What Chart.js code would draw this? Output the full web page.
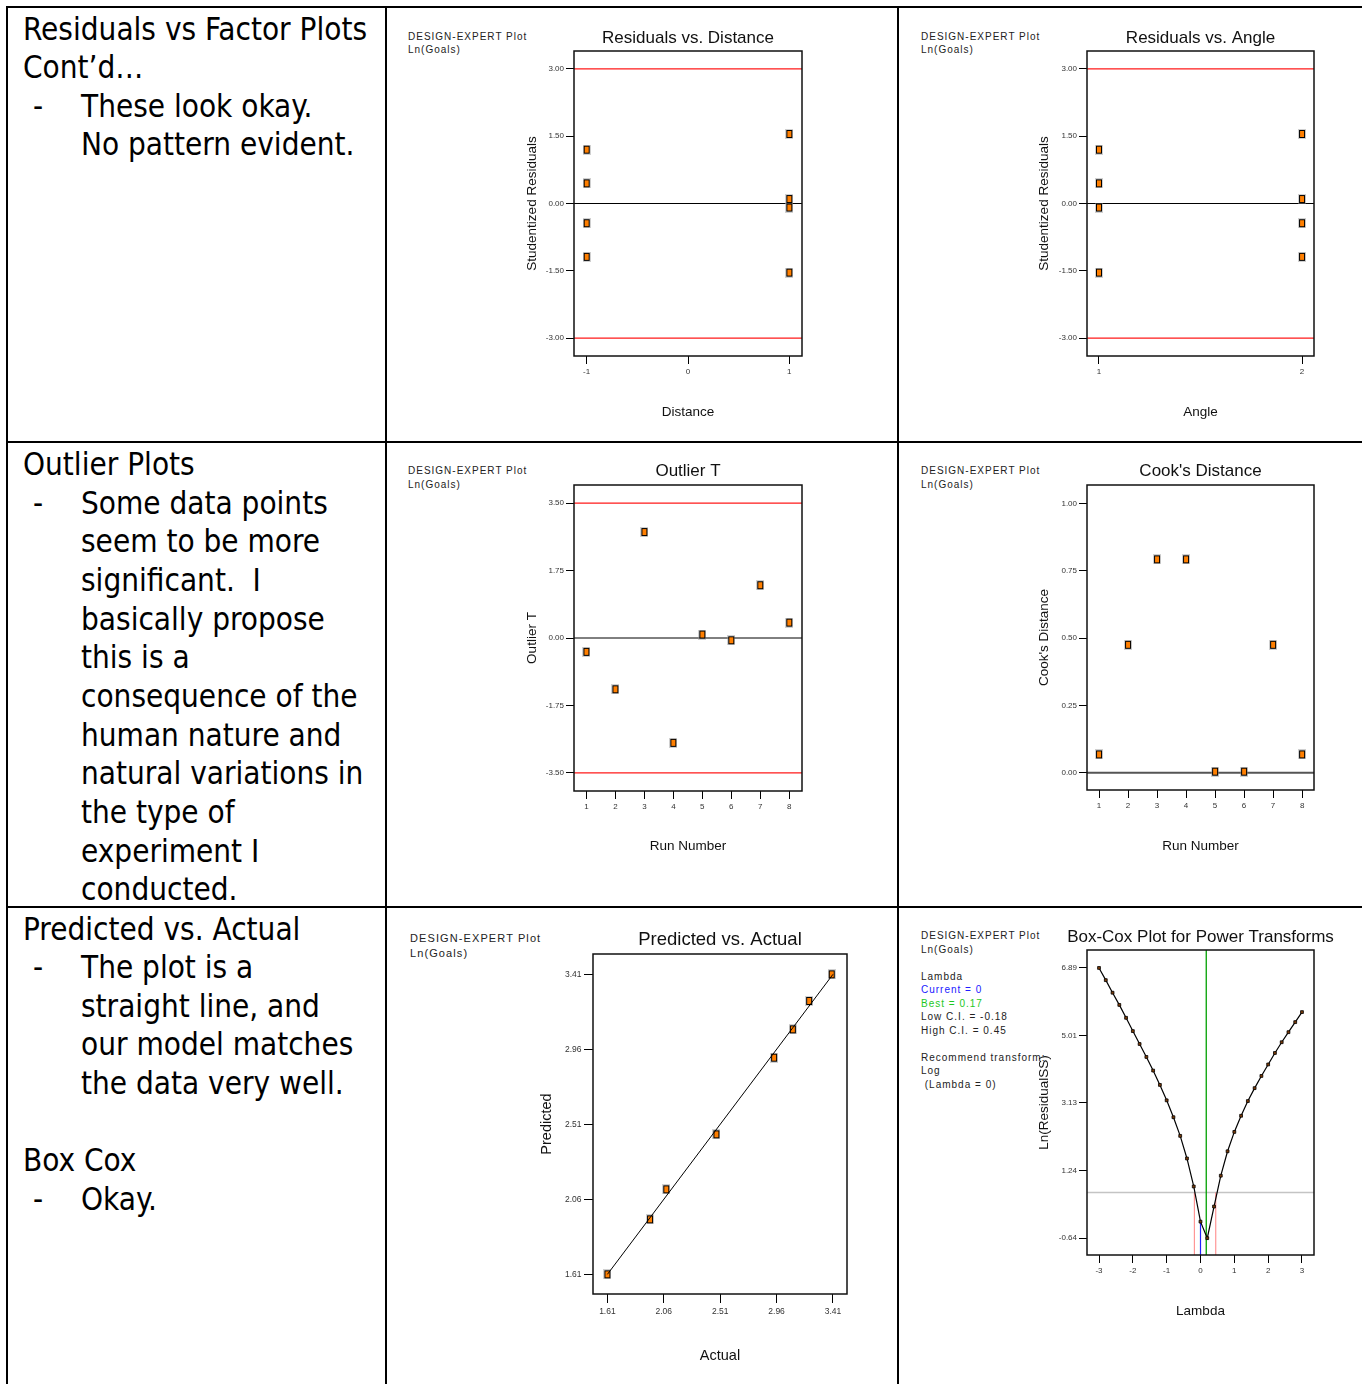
<!DOCTYPE html>
<html>
<head>
<meta charset="utf-8">
<title>Diagnostics</title>
<script src="https://cdn.jsdelivr.net/npm/chart.js@4.4.1/dist/chart.umd.min.js"></script>
<style>
  html, body { margin: 0; padding: 0; background: #fff; width: 1362px; height: 1384px; overflow: hidden; }
  #page { position: relative; width: 1362px; height: 1384px; overflow: hidden; background: #fff; }
  .rule { position: absolute; background: #000; z-index: 5; }
  .cell-text { position: absolute; left: 23px; font-family: "DejaVu Sans Condensed", "DejaVu Sans", sans-serif;
               font-size: 31.2px; line-height: 38.65px; color: #000; white-space: nowrap; z-index: 3; }
  .cell-text .ind { position: relative; padding-left: 58px; }
  .cell-text .dash { position: absolute; left: 10px; top: 0; }
  .notes { position: absolute; font-family: "Liberation Sans", Arial, sans-serif; font-size: 10px;
           line-height: 13.4px; letter-spacing: 1px; color: #222; white-space: pre; z-index: 1; }
  canvas { position: absolute; z-index: 2; }
</style>
</head>
<body>
<div id="page">
  <!-- table rules -->
  <div class="rule" style="left:6px;top:5.5px;width:1356px;height:2px"></div>
  <div class="rule" style="left:6.3px;top:5.5px;width:2px;height:1379px"></div>
  <div class="rule" style="left:384.5px;top:5.5px;width:2.2px;height:1379px"></div>
  <div class="rule" style="left:896.8px;top:5.5px;width:2.2px;height:1379px"></div>
  <div class="rule" style="left:6px;top:440.5px;width:1356px;height:2.2px"></div>
  <div class="rule" style="left:6px;top:905.5px;width:1356px;height:2.2px"></div>

  <!-- commentary column -->
  <div class="cell-text" style="top:9.5px">
    <div>Residuals vs Factor Plots</div>
    <div>Cont’d…</div>
    <div class="ind"><span class="dash">-</span>These look okay.</div>
    <div class="ind">No pattern evident.</div>
  </div>
  <div class="cell-text" style="top:445px">
    <div>Outlier Plots</div>
    <div class="ind"><span class="dash">-</span>Some data points</div>
    <div class="ind">seem to be more</div>
    <div class="ind">significant.&nbsp; I</div>
    <div class="ind">basically propose</div>
    <div class="ind">this is a</div>
    <div class="ind">consequence of the</div>
    <div class="ind">human nature and</div>
    <div class="ind">natural variations in</div>
    <div class="ind">the type of</div>
    <div class="ind">experiment I</div>
    <div class="ind">conducted.</div>
  </div>
  <div class="cell-text" style="top:909.5px">
    <div>Predicted vs. Actual</div>
    <div class="ind"><span class="dash">-</span>The plot is a</div>
    <div class="ind">straight line, and</div>
    <div class="ind">our model matches</div>
    <div class="ind">the data very well.</div>
    <div>&nbsp;</div>
    <div>Box Cox</div>
    <div class="ind"><span class="dash">-</span>Okay.</div>
  </div>
</div>

<script>
// ---------- run data (8 runs) ----------
const RUN_NUMBER = [1, 2, 3, 4, 5, 6, 7, 8];
const DISTANCE = [-1, -1, 1, 1, 1, 1, -1, -1];
const ANGLE = [2, 2, 2, 1, 2, 1, 1, 1];
const STUDENTIZED_RESIDUALS = [-0.44, -1.19, 1.55, -1.54, 0.10, -0.09, 1.20, 0.45];
const OUTLIER_T = [-0.36, -1.33, 2.75, -2.72, 0.09, -0.06, 1.37, 0.40];
const COOKS_DISTANCE = [0.068, 0.475, 0.792, 0.792, 0.004, 0.004, 0.475, 0.068];

// ---------- predicted vs actual, Ln(Goals) ----------
const ACTUAL = [1.61, 1.95, 2.08, 2.48, 2.94, 3.09, 3.22, 3.40];
const PREDICTED = [1.61, 1.94, 2.12, 2.45, 2.91, 3.08, 3.25, 3.41];

// ---------- Box-Cox ----------
const LAMBDA = [-3, -2.8, -2.6, -2.4, -2.2, -2, -1.8, -1.6, -1.4, -1.2, -1, -0.8, -0.6, -0.4, -0.2,
                0, 0.2, 0.4, 0.6, 0.8, 1, 1.2, 1.4, 1.6, 1.8, 2, 2.2, 2.4, 2.6, 2.8, 3];
const LN_RESIDUAL_SS = [6.89, 6.55, 6.20, 5.86, 5.50, 5.13, 4.77, 4.41, 4.03, 3.63, 3.20, 2.73, 2.21, 1.58, 0.80,
                        -0.18, -0.64, 0.24, 1.10, 1.78, 2.32, 2.77, 3.18, 3.54, 3.88, 4.20, 4.52, 4.82, 5.10, 5.38, 5.66];
const LAMBDA_CURRENT = 0;
const LAMBDA_BEST = 0.17;
const LAMBDA_CI_LOW = -0.18;
const LAMBDA_CI_HIGH = 0.45;
const LN_SS_CI_LIMIT = 0.63;

// ---------- reference limits ----------
const RESID_LIMIT = 3;
const OUTLIER_LIMIT = 3.5;

// ---------- tick values ----------
const RESID_TICKS = [-3, -1.5, 0, 1.5, 3];
const DISTANCE_TICKS = [-1, 0, 1];
const ANGLE_TICKS = [1, 2];
const RUN_TICKS = [1, 2, 3, 4, 5, 6, 7, 8];
const OUTLIER_TICKS = [-3.5, -1.75, 0, 1.75, 3.5];
const COOKS_TICKS = [0, 0.25, 0.5, 0.75, 1];
const LN_GOALS_TICKS = [1.61, 2.06, 2.51, 2.96, 3.41];
const LAMBDA_TICKS = [-3, -2, -1, 0, 1, 2, 3];
const LN_SS_TICKS = [-0.64, 1.24, 3.13, 5.01, 6.89];

// ---------- drawing helpers ----------
const FONT = "'Liberation Sans', Arial, sans-serif";
const AXIS_W = 60;
const page = document.getElementById('page');

// orange square marker with black outline and a soft grey halo
function makeMarker() {
  const c = document.createElement('canvas');
  c.width = 8; c.height = 10;
  const g = c.getContext('2d');
  g.fillStyle = 'rgba(150,150,150,0.45)'; g.fillRect(0, 0, 8, 10);
  g.fillStyle = '#000'; g.fillRect(1, 1, 6, 8);
  g.fillStyle = '#ff7f00'; g.fillRect(2, 2, 4, 6);
  return c;
}
const MARKER = makeMarker();

function pointSet(xs, ys) {
  return { data: xs.map((x, i) => ({ x: x, y: ys[i] })), pointStyle: MARKER, pointRadius: 4,
           pointHoverRadius: 4, showLine: false };
}
function segment(x0, y0, x1, y1, color, width) {
  return { data: [{ x: x0, y: y0 }, { x: x1, y: y1 }], showLine: true, borderColor: color,
           borderWidth: width, pointRadius: 0, pointHoverRadius: 0, fill: false, tension: 0 };
}

const framePlugin = {
  id: 'frame',
  afterDatasetsDraw(chart) {
    const { ctx, chartArea: a } = chart;
    ctx.save();
    ctx.strokeStyle = '#111';
    ctx.lineWidth = 1.5;
    ctx.strokeRect(a.left, a.top, a.right - a.left, a.bottom - a.top);
    ctx.restore();
  }
};

function addNotes(x, y, lines, size, lineH) {
  const d = document.createElement('div');
  d.className = 'notes';
  d.style.left = x + 'px';
  d.style.top = y + 'px';
  if (size) { d.style.fontSize = size + 'px'; d.style.letterSpacing = (size / 10) + 'px'; }
  if (lineH) d.style.lineHeight = lineH + 'px';
  lines.forEach(l => {
    const row = document.createElement('div');
    if (typeof l === 'string') { row.textContent = l || '\u00a0'; }
    else { row.textContent = l.text; row.style.color = l.color; }
    d.appendChild(row);
  });
  page.appendChild(d);
}

function panel(p) {
  const cv = document.createElement('canvas');
  cv.width = p.box.w; cv.height = p.box.h;
  Object.assign(cv.style, { left: p.box.x + 'px', top: p.box.y + 'px', width: p.box.w + 'px', height: p.box.h + 'px' });
  page.appendChild(cv);

  const tLH = p.titleSize * 1.2;
  const aLH = p.axisTitleSize * 1.2;
  const tPadTop = p.titleMid - p.box.y - tLH / 2;
  const tPadBottom = p.area.top - p.box.y - tPadTop - tLH;
  const xAxisH = p.xTitleMid - p.area.bottom + aLH / 2;
  const yTitlePad = p.yTitleMid - (p.area.left - AXIS_W) - aLH / 2;
  const tickFont = { family: FONT, size: p.tickSize };
  const axisFont = { family: FONT, size: p.axisTitleSize };

  return new Chart(cv, {
    type: 'scatter',
    data: { datasets: p.datasets },
    plugins: [framePlugin],
    options: {
      responsive: false,
      animation: false,
      devicePixelRatio: 1,
      events: [],
      layout: {
        padding: {
          left: p.area.left - AXIS_W - p.box.x,
          right: p.box.x + p.box.w - p.area.right - AXIS_W,
          top: 0,
          bottom: p.box.y + p.box.h - p.area.bottom - xAxisH
        }
      },
      plugins: {
        legend: { display: false },
        tooltip: { enabled: false },
        title: {
          display: true, text: p.title, color: '#111',
          font: { family: FONT, size: p.titleSize, weight: 'normal' },
          padding: { top: tPadTop, bottom: tPadBottom }
        }
      },
      scales: {
        x: {
          type: 'linear', position: 'bottom', min: p.x.min, max: p.x.max,
          afterBuildTicks: s => { s.ticks = p.x.ticks.map(v => ({ value: v })); },
          afterFit: s => { s.height = xAxisH; },
          ticks: { font: tickFont, color: '#333', padding: p.xTickPad, maxRotation: 0, minRotation: 0,
                   autoSkip: false, callback: p.x.fmt },
          grid: { drawOnChartArea: false, drawTicks: true, tickLength: p.tickLen, color: '#000', lineWidth: 1 },
          border: { display: false },
          title: { display: true, text: p.xTitle, color: '#111', font: axisFont, padding: { top: 0, bottom: 0 } }
        },
        y: {
          type: 'linear', position: 'left', min: p.y.min, max: p.y.max,
          afterBuildTicks: s => { s.ticks = p.y.ticks.map(v => ({ value: v })); },
          afterFit: s => { s.width = AXIS_W; },
          ticks: { font: tickFont, color: '#333', padding: p.yTickPad, autoSkip: false, callback: p.y.fmt },
          grid: { drawOnChartArea: false, drawTicks: true, tickLength: p.tickLen, color: '#000', lineWidth: 1 },
          border: { display: false },
          title: { display: true, text: p.yTitle, color: '#111', font: axisFont, padding: { top: yTitlePad, bottom: 0 } }
        },
        yR: {
          type: 'linear', position: 'right', display: true,
          ticks: { display: false }, grid: { display: false }, border: { display: false },
          afterFit: s => { s.width = AXIS_W; }
        }
      }
    }
  });
}

const fmt2 = v => v.toFixed(2);
const fmtInt = v => String(v);

// ---------- Residuals vs. Distance ----------
(function () {
  const x = { min: -1.125, max: 1.125, ticks: DISTANCE_TICKS, fmt: fmtInt };
  const y = { min: -3.4, max: 3.4, ticks: RESID_TICKS, fmt: fmt2 };
  panel({
    box: { x: 388, y: 8, w: 508, h: 432 }, area: { left: 574, right: 802, top: 51, bottom: 356 },
    title: 'Residuals vs. Distance', titleSize: 17, titleMid: 38.1,
    axisTitleSize: 13.5, xTitle: 'Distance', xTitleMid: 412.2, yTitle: 'Studentized Residuals', yTitleMid: 532.2,
    tickSize: 8, tickLen: 8, xTickPad: 2.5, yTickPad: 2, x, y,
    datasets: [
      pointSet(DISTANCE, STUDENTIZED_RESIDUALS),
      segment(x.min, 0, x.max, 0, '#000', 1),
      segment(x.min, RESID_LIMIT, x.max, RESID_LIMIT, '#ff1a1a', 1.2),
      segment(x.min, -RESID_LIMIT, x.max, -RESID_LIMIT, '#ff1a1a', 1.2)
    ]
  });
  addNotes(408, 29.9, ['DESIGN-EXPERT Plot', 'Ln(Goals)']);
})();

// ---------- Residuals vs. Angle ----------
(function () {
  const x = { min: 0.941, max: 2.059, ticks: ANGLE_TICKS, fmt: fmtInt };
  const y = { min: -3.4, max: 3.4, ticks: RESID_TICKS, fmt: fmt2 };
  panel({
    box: { x: 899, y: 8, w: 481, h: 432 }, area: { left: 1087, right: 1314, top: 51, bottom: 356 },
    title: 'Residuals vs. Angle', titleSize: 17, titleMid: 38.1,
    axisTitleSize: 13.5, xTitle: 'Angle', xTitleMid: 412.2, yTitle: 'Studentized Residuals', yTitleMid: 1044.5,
    tickSize: 8, tickLen: 8, xTickPad: 2.5, yTickPad: 2, x, y,
    datasets: [
      pointSet(ANGLE, STUDENTIZED_RESIDUALS),
      segment(x.min, 0, x.max, 0, '#000', 1),
      segment(x.min, RESID_LIMIT, x.max, RESID_LIMIT, '#ff1a1a', 1.2),
      segment(x.min, -RESID_LIMIT, x.max, -RESID_LIMIT, '#ff1a1a', 1.2)
    ]
  });
  addNotes(921, 29.9, ['DESIGN-EXPERT Plot', 'Ln(Goals)']);
})();

// ---------- Outlier T ----------
(function () {
  const x = { min: 0.571, max: 8.44, ticks: RUN_TICKS, fmt: fmtInt };
  const y = { min: -3.97, max: 3.97, ticks: OUTLIER_TICKS, fmt: fmt2 };
  panel({
    box: { x: 388, y: 443, w: 508, h: 462 }, area: { left: 574, right: 802, top: 485, bottom: 791 },
    title: 'Outlier T', titleSize: 17, titleMid: 471.8,
    axisTitleSize: 13.5, xTitle: 'Run Number', xTitleMid: 846.5, yTitle: 'Outlier T', yTitleMid: 532.2,
    tickSize: 8, tickLen: 8, xTickPad: 2.5, yTickPad: 2, x, y,
    datasets: [
      pointSet(RUN_NUMBER, OUTLIER_T),
      segment(x.min, 0, x.max, 0, '#000', 1),
      segment(x.min, OUTLIER_LIMIT, x.max, OUTLIER_LIMIT, '#ff1a1a', 1.2),
      segment(x.min, -OUTLIER_LIMIT, x.max, -OUTLIER_LIMIT, '#ff1a1a', 1.2)
    ]
  });
  addNotes(408, 464.2, ['DESIGN-EXPERT Plot', 'Ln(Goals)']);
})();

// ---------- Cook's Distance ----------
(function () {
  const x = { min: 0.586, max: 8.41, ticks: RUN_TICKS, fmt: fmtInt };
  const y = { min: -0.064, max: 1.068, ticks: COOKS_TICKS, fmt: fmt2 };
  panel({
    box: { x: 899, y: 443, w: 481, h: 462 }, area: { left: 1087, right: 1314, top: 485, bottom: 790 },
    title: "Cook's Distance", titleSize: 17, titleMid: 471.8,
    axisTitleSize: 13.5, xTitle: 'Run Number', xTitleMid: 846.5, yTitle: "Cook's Distance", yTitleMid: 1044.5,
    tickSize: 8, tickLen: 8, xTickPad: 2.5, yTickPad: 2, x, y,
    datasets: [
      pointSet(RUN_NUMBER, COOKS_DISTANCE),
      segment(x.min, 0, x.max, 0, '#555', 2)
    ]
  });
  addNotes(921, 464.2, ['DESIGN-EXPERT Plot', 'Ln(Goals)']);
})();

// ---------- Predicted vs. Actual ----------
(function () {
  const x = { min: 1.495, max: 3.522, ticks: LN_GOALS_TICKS, fmt: fmt2 };
  const y = { min: 1.492, max: 3.532, ticks: LN_GOALS_TICKS, fmt: fmt2 };
  const lo = LN_GOALS_TICKS[0], hi = LN_GOALS_TICKS[LN_GOALS_TICKS.length - 1];
  panel({
    box: { x: 388, y: 908, w: 530, h: 476 }, area: { left: 593, right: 847, top: 954, bottom: 1294 },
    title: 'Predicted vs. Actual', titleSize: 18.5, titleMid: 940.3,
    axisTitleSize: 14.5, xTitle: 'Actual', xTitleMid: 1355.7, yTitle: 'Predicted', yTitleMid: 546.7,
    tickSize: 8.5, tickLen: 9, xTickPad: 3.5, yTickPad: 2.5, x, y,
    datasets: [
      segment(lo, lo, hi, hi, '#000', 1),
      pointSet(ACTUAL, PREDICTED)
    ]
  });
  addNotes(410, 930.8, ['DESIGN-EXPERT Plot', 'Ln(Goals)'], 11, 14.7);
})();

// ---------- Box-Cox Plot for Power Transforms ----------
(function () {
  const x = { min: -3.355, max: 3.355, ticks: LAMBDA_TICKS, fmt: fmtInt };
  const y = { min: -1.11, max: 7.39, ticks: LN_SS_TICKS, fmt: fmt2 };
  const atCurrent = LN_RESIDUAL_SS[LAMBDA.indexOf(LAMBDA_CURRENT)];
  const curve = {
    data: LAMBDA.map((l, i) => ({ x: l, y: LN_RESIDUAL_SS[i] })),
    showLine: true, borderColor: '#000', borderWidth: 1.2, tension: 0,
    pointStyle: 'rect', pointRadius: 2, pointHoverRadius: 2,
    pointBackgroundColor: '#7a3a08', pointBorderColor: '#000', pointBorderWidth: 0.8
  };
  panel({
    box: { x: 899, y: 908, w: 481, h: 476 }, area: { left: 1087, right: 1314, top: 950, bottom: 1255 },
    title: 'Box-Cox Plot for Power Transforms', titleSize: 17, titleMid: 937.4,
    axisTitleSize: 13.5, xTitle: 'Lambda', xTitleMid: 1311.5, yTitle: 'Ln(ResidualSS)', yTitleMid: 1044.5,
    tickSize: 8, tickLen: 8, xTickPad: 3, yTickPad: 2, x, y,
    datasets: [
      curve,
      segment(LAMBDA_CURRENT, y.min, LAMBDA_CURRENT, atCurrent, '#2020ff', 1.2),
      segment(LAMBDA_BEST, y.min, LAMBDA_BEST, y.max, '#00a000', 1.3),
      segment(LAMBDA_CI_LOW, y.min, LAMBDA_CI_LOW, LN_SS_CI_LIMIT, 'rgba(255,80,80,0.6)', 1.2),
      segment(LAMBDA_CI_HIGH, y.min, LAMBDA_CI_HIGH, LN_SS_CI_LIMIT, 'rgba(255,80,80,0.6)', 1.2),
      segment(x.min, LN_SS_CI_LIMIT, x.max, LN_SS_CI_LIMIT, '#c4c4c4', 1.5)
    ]
  });
  addNotes(921, 929.1, [
    'DESIGN-EXPERT Plot', 'Ln(Goals)', '',
    'Lambda',
    { text: 'Current = ' + LAMBDA_CURRENT, color: '#2020ff' },
    { text: 'Best = ' + LAMBDA_BEST, color: '#1ec81e' },
    'Low C.I. = ' + LAMBDA_CI_LOW,
    'High C.I. = ' + LAMBDA_CI_HIGH,
    '',
    'Recommend transform:',
    'Log',
    ' (Lambda = ' + LAMBDA_CURRENT + ')'
  ], 10, 13.5);
})();
</script>
</body>
</html>
